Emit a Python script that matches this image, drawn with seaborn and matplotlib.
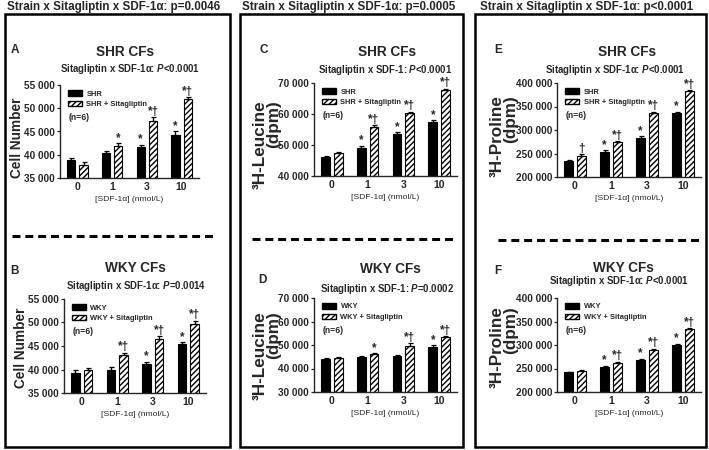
import numpy as np
import pandas as pd
import matplotlib
matplotlib.use("Agg")
import matplotlib.pyplot as plt
import seaborn as sns
from matplotlib.patches import Patch, Rectangle
from matplotlib.lines import Line2D
from matplotlib.ticker import FuncFormatter, MultipleLocator

# ---- data ----
conc_labels = ["0", "1", "3", "10"]

a_ctrl = [38800, 40400, 41700, 44300]
a_ctrl_err = [500, 500, 500, 800]
a_sita = [37900, 41900, 47300, 52000]
a_sita_err = [600, 600, 800, 400]
a_ctrl_sig = ["", "", "*", "*"]
a_sita_sig = ["", "*", "*†", "*†"]

b_ctrl = [39300, 39900, 41200, 45500]
b_ctrl_err = [500, 600, 500, 300]
b_sita = [39800, 43000, 46500, 49600]
b_sita_err = [500, 600, 600, 800]
b_ctrl_sig = ["", "", "*", "*"]
b_sita_sig = ["", "*†", "*†", "*†"]

c_ctrl = [46000, 48900, 53500, 57400]
c_ctrl_err = [400, 800, 600, 600]
c_sita = [47300, 55900, 60300, 67600]
c_sita_err = [400, 500, 500, 600]
c_ctrl_sig = ["", "*", "*", "*"]
c_sita_sig = ["", "*†", "*†", "*†"]

d_ctrl = [44200, 45000, 45400, 49200]
d_ctrl_err = [300, 400, 400, 700]
d_sita = [44600, 46200, 49700, 53400]
d_sita_err = [500, 400, 1000, 500]
d_ctrl_sig = ["", "", "", "*"]
d_sita_sig = ["", "*", "*†", "*†"]

e_ctrl = [235000, 254000, 284000, 336000]
e_ctrl_err = [1500, 2500, 2500, 2500]
e_sita = [245000, 274000, 336000, 384000]
e_sita_err = [3000, 2500, 3000, 1500]
e_ctrl_sig = ["", "*", "*", "*"]
e_sita_sig = ["†", "*†", "*†", "*†"]

f_ctrl = [242000, 253000, 268000, 301000]
f_ctrl_err = [1500, 3000, 2500, 2000]
f_sita = [245000, 262000, 290000, 334000]
f_sita_err = [2000, 2500, 2000, 1500]
f_ctrl_sig = ["", "*", "*", "*"]
f_sita_sig = ["", "*†", "*†", "*†"]

col_titles = ["Strain x Sitagliptin x SDF-1α: p=0.0046",
              "Strain x Sitagliptin x SDF-1α: p=0.0005",
              "Strain x Sitagliptin x SDF-1α: p<0.0001"]

# ---- style ----
sns.set_style("ticks")
plt.rcParams["font.family"] = ["Liberation Sans", "DejaVu Sans"]
plt.rcParams["font.weight"] = "bold"
plt.rcParams["mathtext.fontset"] = "custom"
plt.rcParams["mathtext.bfit"] = "Liberation Sans:italic:bold"
plt.rcParams["hatch.linewidth"] = 1.0
plt.rcParams["axes.linewidth"] = 1.0

W, H = 709, 450
fig = plt.figure(figsize=(W / 100, H / 100), dpi=100)


def px_box(x0, y0, x1, y1):
    return [x0 / W, 1 - y1 / H, (x1 - x0) / W, (y1 - y0) / H]


def fig_text(x, y, s, **kw):
    fig.text(x / W, 1 - y / H, s, **kw)


thousands = FuncFormatter(lambda v, p: f"{int(round(v)):,}".replace(",", " "))


def draw_panel(rect, ctrl, ctrl_err, sita, sita_err, ctrl_sig, sita_sig,
               names, ylim, step, ylabel, ylab_x, ylab_top, ylab_size):
    ax = fig.add_axes(px_box(*rect))
    df = pd.DataFrame({
        "conc": conc_labels * 2,
        "group": [names[0]] * 4 + [names[1]] * 4,
        "value": ctrl + sita,
    })
    sns.barplot(data=df, x="conc", y="value", hue="group", order=conc_labels,
                hue_order=names, palette=["black", "white"], saturation=1,
                edgecolor="black", linewidth=0.8, width=0.71, gap=0.32,
                errorbar=None, legend=False, ax=ax)

    for k, (cont, vals, errs, sigs) in enumerate(zip(
            ax.containers, [ctrl, sita], [ctrl_err, sita_err], [ctrl_sig, sita_sig])):
        xs = [b.get_x() + b.get_width() / 2 for b in cont]
        if k == 1:
            for b in cont:
                b.set_hatch("//////")
        ax.errorbar(xs, vals, yerr=[np.zeros(len(vals)), errs], fmt="none",
                    ecolor="black", elinewidth=0.9, capsize=1.8, capthick=0.9)
        for x, v, e, s in zip(xs, vals, errs, sigs):
            if s:
                ax.annotate(s, (x, v + e), xytext=(0, -0.5), textcoords="offset points",
                            ha="center", va="bottom", fontsize=8.5, fontweight="bold")

    ax.set_ylim(*ylim)
    ax.set_xlim(-0.5, 3.5)
    ax.yaxis.set_major_locator(MultipleLocator(step))
    ax.yaxis.set_major_formatter(thousands)
    ax.tick_params(axis="y", labelsize=7.2, width=0.9, length=2.5, pad=1)
    ax.tick_params(axis="x", labelsize=7.5, width=0.9, length=0, pad=3)
    ax.set_xlabel("[SDF-1α] (nmol/L)", fontsize=6.1, fontweight="normal", labelpad=3)
    ax.set_ylabel("")
    sns.despine(ax=ax)

    ax.text(ylab_x, ylab_top, ylabel, transform=ax.transAxes, rotation=90,
            ha="center", va="top", multialignment="right", fontsize=ylab_size,
            fontweight="bold", linespacing=0.9)

    handles = [Patch(facecolor="black", edgecolor="black"),
               Patch(facecolor="white", edgecolor="black", hatch="//////")]
    ax.legend(handles, names, loc="upper left", bbox_to_anchor=(0.02, 1.0),
              frameon=False, fontsize=5.4, handlelength=1.9, handleheight=0.7,
              handletextpad=0.55, labelspacing=0.42, borderpad=0.2)
    ax.text(0.06, 0.65, "(n=6)", transform=ax.transAxes, fontsize=6.2,
            fontweight="bold", va="center")
    return ax


shr = ["SHR", "SHR + Sitagliptin"]
wky = ["WKY", "WKY + Sitagliptin"]

draw_panel((60, 85, 199, 178), a_ctrl, a_ctrl_err, a_sita, a_sita_err, a_ctrl_sig, a_sita_sig,
           shr, (35000, 55000), 5000, "Cell Number", -0.31, 0.86, 9.8)
draw_panel((64, 299, 206, 393), b_ctrl, b_ctrl_err, b_sita, b_sita_err, b_ctrl_sig, b_sita_sig,
           wky, (35000, 55000), 5000, "Cell Number", -0.30, 0.91, 9.8)
draw_panel((314, 83, 457, 176), c_ctrl, c_ctrl_err, c_sita, c_sita_err, c_ctrl_sig, c_sita_sig,
           shr, (40000, 70000), 10000, "³H-Leucine\n(dpm)", -0.33, 0.81, 12.3)
draw_panel((314, 298, 457, 392), d_ctrl, d_ctrl_err, d_sita, d_sita_err, d_ctrl_sig, d_sita_sig,
           wky, (30000, 70000), 10000, "³H-Leucine\n(dpm)", -0.33, 0.86, 12.3)
draw_panel((557, 83, 701, 177), e_ctrl, e_ctrl_err, e_sita, e_sita_err, e_ctrl_sig, e_sita_sig,
           shr, (200000, 400000), 50000, "³H-Proline\n(dpm)", -0.37, 0.87, 12.3)
draw_panel((557, 298, 701, 392), f_ctrl, f_ctrl_err, f_sita, f_sita_err, f_ctrl_sig, f_sita_sig,
           wky, (200000, 400000), 50000, "³H-Proline\n(dpm)", -0.37, 0.91, 12.3)

# ---- column frames, titles, separators ----
frames = [(5, 14, 230, 447), (240, 14, 463, 447), (475, 14, 706, 447)]
title_x = [114, 349, 587]
dash_spans = [(12, 213, 236), (252, 455, 239), (498, 700, 240)]
for (x0, y0, x1, y1), tx, (d0, d1, dy), t in zip(frames, title_x, dash_spans, col_titles):
    fig.patches.append(Rectangle((x0 / W, 1 - y1 / H), (x1 - x0) / W, (y1 - y0) / H,
                                 transform=fig.transFigure, fill=False,
                                 edgecolor="black", linewidth=1.8))
    fig_text(tx, 7, t, ha="center", va="center", fontsize=8.4, fontweight="bold")
    fig.lines.append(Line2D([d0 / W, d1 / W], [1 - dy / H, 1 - dy / H],
                            transform=fig.transFigure, color="black",
                            linewidth=2.2, linestyle=(0, (2.6, 1.6))))

# ---- panel headings ----
letters = [("A", 15, 50), ("B", 15, 271), ("C", 264, 50),
           ("D", 262, 280), ("E", 498, 50), ("F", 498, 271)]
for s, x, y in letters:
    fig_text(x, y, s, ha="center", va="center", fontsize=8.5, fontweight="bold")

heads = [("SHR CFs", 125, 52), ("WKY CFs", 135, 268), ("SHR CFs", 387, 52),
         ("WKY CFs", 390, 269), ("SHR CFs", 627, 52), ("WKY CFs", 623, 268)]
for s, x, y in heads:
    fig_text(x, y, s, ha="center", va="center", fontsize=9.8, fontweight="bold")

subs = [("Sitagliptin x SDF-1α: $\\mathbfit{P}$<0.0001", 130, 69),
        ("Sitagliptin x SDF-1α: $\\mathbfit{P}$=0.0014", 136, 286),
        ("Sitagliptin x SDF-1: $\\mathbfit{P}$<0.0001", 385, 70),
        ("Sitagliptin x SDF-1: $\\mathbfit{P}$=0.0002", 387, 289),
        ("Sitagliptin x SDF-1α: $\\mathbfit{P}$<0.0001", 615, 70),
        ("Sitagliptin x SDF-1α: $\\mathbfit{P}$<0.0001", 619, 281)]
for s, x, y in subs:
    fig_text(x, y, s, ha="center", va="center", fontsize=6.9, fontweight="bold")

fig.savefig("out.png", dpi=100)
